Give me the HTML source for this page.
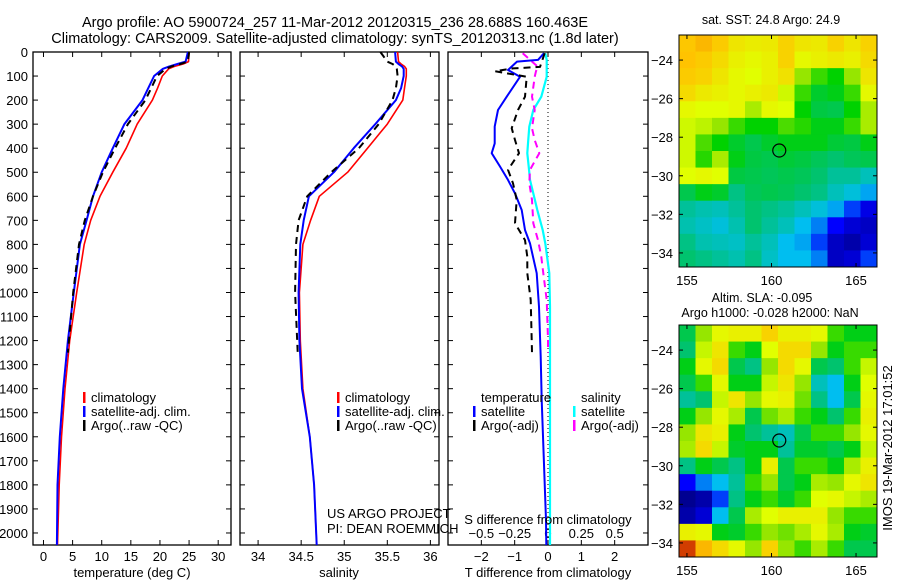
<!DOCTYPE html>
<html><head><meta charset="utf-8"><style>
html,body{margin:0;padding:0;background:#fff;}
svg{display:block;font-family:"Liberation Sans",sans-serif;}
</style></head><body>
<svg id="chart" width="900" height="580" viewBox="0 0 900 580" xmlns="http://www.w3.org/2000/svg">
<text x="335" y="27" font-size="14.5" text-anchor="middle">Argo profile: AO 5900724_257 11-Mar-2012 20120315_236 28.688S 160.463E</text>
<text x="335" y="43" font-size="14.5" text-anchor="middle">Climatology: CARS2009. Satellite-adjusted climatology: synTS_20120313.nc (1.8d later)</text>
<g id="layer"></g>
</svg>
<script>
// ---- profile data (depth in m) ----
const depthT = [0,40,50,60,70,100,150,200,300,400,500,600,700,800,1000,1200,1400,1600,1800,2050];
const tempClim = [25.0,24.9,24.0,22.5,21.5,20.4,19.6,18.7,16.1,14.2,11.9,9.7,8.1,7.0,5.7,4.5,3.7,3.1,2.7,2.4];
const tempSat = [24.8,24.4,23.0,21.6,20.5,19.0,18.0,17.0,13.9,11.9,10.0,8.5,7.4,6.25,5.2,4.2,3.4,2.8,2.4,2.3];
const depthArgo = [0,40,50,60,70,100,150,200,300,400,500,600,700,800,1000,1250];
const tempArgo = [25.0,24.8,23.5,22.0,21.0,19.5,18.5,17.5,14.5,12.3,10.2,8.5,7.1,6.1,5.1,4.2];
const salClim = [35.62,35.63,35.66,35.70,35.72,35.72,35.70,35.68,35.50,35.27,35.04,34.71,34.61,34.52,34.48,34.49,34.52,34.60,34.65,34.68];
const salSat = [35.59,35.60,35.63,35.67,35.69,35.69,35.66,35.60,35.36,35.11,34.88,34.59,34.53,34.49,34.47,34.48,34.51,34.60,34.65,34.68];
const salArgo = [35.42,35.50,35.56,35.60,35.61,35.62,35.60,35.56,35.40,35.17,34.85,34.57,34.47,34.44,34.43,34.46];
// differences
const depthDiff = [5,33,40,75,103,186,241,310,380,421,476,532,588,657,740,796,920,1059,1267,1447,1946,2050];
const dTSat = [-0.12,-0.3,-0.93,-1.2,-0.84,-1.24,-1.5,-1.6,-1.6,-1.69,-1.44,-1.2,-0.99,-0.79,-0.69,-0.54,-0.34,-0.27,-0.22,-0.19,-0.06,-0.05];
const dSSat = [-0.02,-0.01,-0.01,-0.01,-0.01,-0.05,-0.11,-0.14,-0.15,-0.155,-0.145,-0.135,-0.11,-0.08,-0.04,-0.02,0.01,0.015,0.015,0.015,0.015,0.015];
const depthDiffArgo = [5,62,68,80,103,186,241,317,366,421,490,546,615,712,782,851,920,1031,1197,1250];
const dTArgo = [-0.1,-0.24,-1.05,-1.59,-0.64,-0.69,-0.9,-1.09,-0.99,-0.87,-1.2,-1.05,-0.94,-0.99,-0.69,-0.62,-0.62,-0.52,-0.49,-0.48];
const dSArgo = [-0.19,-0.075,-0.08,-0.09,-0.1,-0.12,-0.1,-0.12,-0.1,-0.065,-0.135,-0.14,-0.12,-0.11,-0.075,-0.05,-0.035,-0.01,0,0];
// tick labels
const depthTicks = [0,100,200,300,400,500,600,700,800,900,1000,1100,1200,1300,1400,1500,1600,1700,1800,1900,2000];
const tempTicks = [0,5,10,15,20,25,30];
const salTicks = [34,34.5,35,35.5,36];
const tDiffTicks = [-2,-1,0,1,2];
const sDiffTicks = [-0.5,-0.25,0,0.25,0.5];
const lonTicks = [155,160,165];
const latTicks = [-24,-26,-28,-30,-32,-34];
// map grids (normalised colour value 0..1), rows north->south
const sstGrid = [
[0.83,0.85,0.82,0.75,0.73,0.74,0.8,0.75,0.74,0.8,0.75,0.8],
[0.84,0.82,0.78,0.72,0.7,0.72,0.8,0.7,0.72,0.74,0.72,0.78],
[0.82,0.8,0.75,0.7,0.68,0.72,0.76,0.6,0.55,0.52,0.6,0.75],
[0.78,0.74,0.72,0.7,0.72,0.74,0.66,0.55,0.48,0.5,0.55,0.7],
[0.7,0.68,0.68,0.7,0.62,0.7,0.68,0.52,0.46,0.45,0.52,0.62],
[0.66,0.64,0.6,0.55,0.52,0.52,0.56,0.54,0.5,0.5,0.55,0.62],
[0.66,0.56,0.52,0.48,0.45,0.48,0.5,0.5,0.5,0.47,0.46,0.5],
[0.66,0.54,0.62,0.5,0.46,0.45,0.47,0.46,0.44,0.42,0.44,0.45],
[0.68,0.7,0.68,0.46,0.45,0.44,0.45,0.44,0.42,0.38,0.38,0.35],
[0.45,0.5,0.48,0.4,0.44,0.45,0.44,0.42,0.4,0.35,0.32,0.28],
[0.38,0.36,0.35,0.38,0.42,0.4,0.38,0.35,0.32,0.28,0.2,0.12],
[0.36,0.34,0.32,0.36,0.42,0.38,0.35,0.3,0.25,0.15,0.1,0.08],
[0.4,0.36,0.35,0.34,0.38,0.35,0.3,0.28,0.2,0.08,0.05,0.1],
[0.42,0.4,0.38,0.36,0.4,0.34,0.3,0.3,0.25,0.08,0.1,0.2]];
const slaGrid = [
[0.45,0.6,0.7,0.72,0.72,0.8,0.72,0.72,0.7,0.55,0.5,0.5],
[0.42,0.65,0.75,0.55,0.5,0.68,0.78,0.78,0.6,0.5,0.55,0.55],
[0.5,0.7,0.78,0.45,0.4,0.6,0.78,0.7,0.45,0.42,0.55,0.65],
[0.45,0.55,0.7,0.5,0.5,0.65,0.75,0.6,0.35,0.3,0.5,0.68],
[0.38,0.42,0.65,0.75,0.6,0.7,0.72,0.58,0.4,0.3,0.45,0.7],
[0.5,0.6,0.7,0.62,0.45,0.58,0.62,0.55,0.5,0.42,0.55,0.72],
[0.6,0.75,0.72,0.5,0.42,0.38,0.35,0.45,0.55,0.55,0.6,0.7],
[0.62,0.78,0.65,0.48,0.5,0.5,0.38,0.48,0.48,0.45,0.5,0.65],
[0.4,0.5,0.45,0.4,0.5,0.72,0.45,0.55,0.55,0.5,0.62,0.72],
[0.15,0.25,0.3,0.38,0.55,0.6,0.45,0.5,0.62,0.6,0.7,0.75],
[0.02,0.05,0.2,0.4,0.5,0.55,0.48,0.55,0.68,0.7,0.65,0.62],
[0.05,0.1,0.3,0.45,0.62,0.68,0.72,0.72,0.72,0.6,0.55,0.55],
[0.72,0.7,0.5,0.48,0.55,0.6,0.58,0.62,0.7,0.62,0.5,0.48],
[0.95,0.85,0.78,0.7,0.6,0.8,0.6,0.55,0.62,0.55,0.45,0.45]];
const argoLon = [160.46];
const argoLat = [-28.69];

const NS='http://www.w3.org/2000/svg';
const layer=document.getElementById('layer');
function mk(tag,attrs,parent){const e=document.createElementNS(NS,tag);for(const k in attrs)e.setAttribute(k,attrs[k]);(parent||layer).appendChild(e);return e;}
function txt(s,x,y,size,anchor,parent){const t=mk('text',{x:x,y:y,'font-size':size,'text-anchor':anchor||'start'},parent);t.textContent=s;return t;}

const PT=52, PB=545, DMAX=2050;
const yD=d=>PT+(d/DMAX)*(PB-PT);
function lin(d0,d1,r0,r1){return v=>r0+(v-d0)/(d1-d0)*(r1-r0);}
const panels=[
 {name:'temperature-panel',x0:33,x1:231,xs:lin(-1.8,32.2,33,231)},
 {name:'salinity-panel',x0:240,x1:439,xs:lin(33.79,36.1,240,439)},
 {name:'difference-panel',x0:448,x1:648,xs:lin(-3,3,448,648)}];

panels.forEach((p,i)=>{
 const g=mk('g',{});
 
 
 p.g=g;
 const r=mk('rect',{x:p.x0,y:PT,width:p.x1-p.x0,height:PB-PT,fill:'none',stroke:'#000','stroke-width':1.3},g);
 
 
 depthTicks.forEach(d=>{
  mk('line',{x1:p.x0,x2:p.x0+5,y1:yD(d),y2:yD(d),stroke:'#000'},g);
  mk('line',{x1:p.x1-5,x2:p.x1,y1:yD(d),y2:yD(d),stroke:'#000'},g);
 });
});
depthTicks.forEach(d=>{const t=txt(String(d),28,yD(d)+5,13,'end');
 
 });

function xTicks(p,vals,fmt,yLab,top){
 vals.forEach(v=>{const x=p.xs(v);
  mk('line',{x1:x,x2:x,y1:PB-5,y2:PB,stroke:'#000'},p.g);
  if(top) mk('line',{x1:x,x2:x,y1:PT,y2:PT+5,stroke:'#000'},p.g);
  const t=txt(fmt(v),x,yLab,13,'middle',p.g);
  
  });
}
xTicks(panels[0],tempTicks,v=>String(v),561,true);
xTicks(panels[1],salTicks,v=>String(v),561,true);
xTicks(panels[2],tDiffTicks,v=>v<0?'\u2212'+(-v):String(v),561,true);
sDiffTicks.forEach(v=>{const x=panels[2].xs(v*4);
 const t=txt(v<0?'\u2212'+(-v):String(v),x,538,13,'middle',panels[2].g);
 
 });
[['temperature (deg C)',132,'temperature-axis-title'],['salinity',339,'salinity-axis-title'],['T difference from climatology',548,'t-diff-axis-title']].forEach(a=>{
 const t=txt(a[0],a[1],577,13,'middle');});
const sdl=txt('S difference from climatology',548,524,13,'middle');



function line(p,xs,ds,vals,color,w,dash,name,scale){
 const pts=ds.map((d,i)=>p.xs(vals[i]*(scale||1)).toFixed(1)+','+yD(d).toFixed(1)).join(' ');
 const l=mk('polyline',{points:pts,fill:'none',stroke:color,'stroke-width':w,'stroke-linejoin':'round'},p.g);
 if(dash) l.setAttribute('stroke-dasharray',dash);
 
 
}
const P0=panels[0],P1=panels[1],P2=panels[2];
line(P0,null,depthT,tempClim,'#ff0000',1.6,null,'temperature-climatology-line');
line(P0,null,depthT,tempSat,'#0000ff',2,null,'temperature-satellite-line');
line(P0,null,depthArgo,tempArgo,'#000',2,'7,5','temperature-argo-line');
line(P1,null,depthT,salClim,'#ff0000',1.6,null,'salinity-climatology-line');
line(P1,null,depthT,salSat,'#0000ff',2,null,'salinity-satellite-line');
line(P1,null,depthArgo,salArgo,'#000',2,'7,5','salinity-argo-line');
const z=mk('line',{x1:P2.xs(0),x2:P2.xs(0),y1:PT,y2:PB,stroke:'#000','stroke-dasharray':'1,3'},P2.g);


line(P2,null,depthDiff,dSSat,'#00ffff',2.2,null,'salinity-diff-satellite-line',4);
line(P2,null,depthDiffArgo,dSArgo,'#ff00ff',2,'7,5','salinity-diff-argo-line',4);
line(P2,null,depthDiff,dTSat,'#0000ff',2,null,'temperature-diff-satellite-line');
line(P2,null,depthDiffArgo,dTArgo,'#000',2,'7,5','temperature-diff-argo-line');

function legend(x,y,items,name){
 const g=mk('g',{});
 
 
 items.forEach((it,i)=>{const yy=y+i*14;
  if(it[1]) mk('rect',{x:x,y:yy-10,width:2.5,height:11,fill:it[1]},g);
  txt(it[0],x+8,yy,13,'start',g);});
}
legend(83,402,[['climatology','#ff0000'],['satellite-adj. clim.','#0000ff'],['Argo(..raw -QC)','#000']],'temperature-legend');
legend(337,402,[['climatology','#ff0000'],['satellite-adj. clim.','#0000ff'],['Argo(..raw -QC)','#000']],'salinity-legend');
txt('temperature',481,402,13);
legend(473,416,[['satellite','#0000ff'],['Argo(-adj)','#000']],'diff-temperature-legend');
txt('salinity',581,402,13);
legend(573,416,[['satellite','#00ffff'],['Argo(-adj)','#ff00ff']],'diff-salinity-legend');
const c1=txt('US ARGO PROJECT',327,518,13);
const c2=txt('PI: DEAN ROEMMICH',327,533,13);

// ---- maps ----
const MX0=679,MX1=877, LON0=154.53,LON1=166.24, LAT0=-22.7,LAT1=-34.73;
const mxs=lin(LON0,LON1,MX0,MX1);
const stops=[[0,[0,0,128]],[0.15,[0,0,255]],[0.3,[0,190,240]],[0.42,[0,195,110]],[0.52,[0,210,0]],[0.6,[150,230,0]],[0.68,[225,255,0]],[0.84,[255,195,0]],[1,[190,0,0]]];
function cmap(v){for(let i=1;i<stops.length;i++){if(v<=stops[i][0]){const a=stops[i-1],b=stops[i];const t=(v-a[0])/(b[0]-a[0]);
 return 'rgb('+a[1].map((c,k)=>Math.round(c+(b[1][k]-c)*t)).join(',')+')';}}return 'rgb(190,0,0)';}
function drawMap(top,grid,name,titles){
 const bot=top+232, mys=lin(LAT0,LAT1,top,bot);
 const g=mk('g',{});
 
 
 const rows=grid.length, cols=grid[0].length;
 const cw=(MX1-MX0)/cols, ch=(bot-top)/rows;
 grid.forEach((row,r)=>row.forEach((v,c)=>{
  const cell=mk('rect',{x:(MX0+c*cw).toFixed(2),y:(top+r*ch).toFixed(2),width:(cw+0.4).toFixed(2),height:(ch+0.4).toFixed(2),fill:cmap(v)},g);
  
  
 }));
 mk('rect',{x:MX0,y:top,width:MX1-MX0,height:bot-top,fill:'none',stroke:'#000','stroke-width':1},g);
 lonTicks.forEach(v=>{const x=mxs(v);mk('line',{x1:x,x2:x,y1:bot-4,y2:bot,stroke:'#000'},g);mk('line',{x1:x,x2:x,y1:top,y2:top+4,stroke:'#000'},g);
  const t=txt(String(v),x,bot+18,13,'middle',g);});
 latTicks.forEach(v=>{const y=mys(v);mk('line',{x1:MX0,x2:MX0+4,y1:y,y2:y,stroke:'#000'},g);mk('line',{x1:MX1-4,x2:MX1,y1:y,y2:y,stroke:'#000'},g);
  const t=txt('\u2212'+(-v),673,y+5,13,'end',g);});
 argoLon.forEach((lo,i)=>{const c=mk('circle',{cx:mxs(lo),cy:mys(argoLat[i]),r:6.5,fill:'none',stroke:'#000','stroke-width':1.2},g);
  });
 titles.forEach(t=>{const e=txt(t[0],t[1],t[2],12.5,'middle',g);});
}
drawMap(35,sstGrid,'sst-map',[['sat. SST: 24.8 Argo: 24.9',771,24]]);
drawMap(325,slaGrid,'sla-map',[['Altim. SLA: -0.095',762,302],['Argo h1000: -0.028 h2000: NaN',770,317]]);
const st=txt('IMOS 19-Mar-2012 17:01:52',0,0,13,'middle');
st.setAttribute('transform','translate(892,448) rotate(-90)');


</script>
</body></html>
